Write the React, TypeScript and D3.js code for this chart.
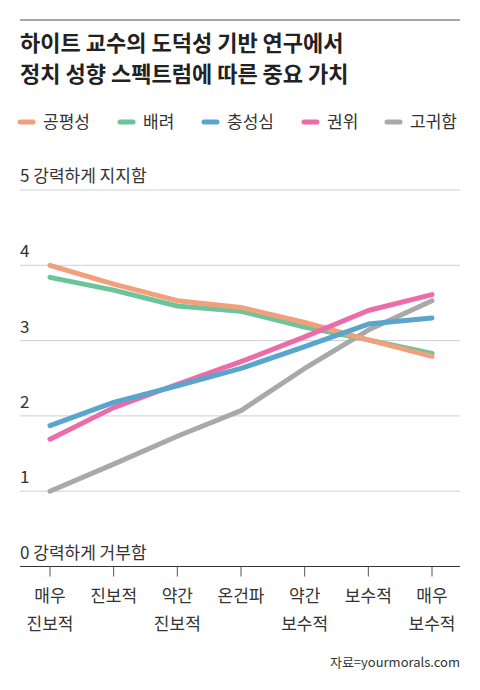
import React, { useRef, useEffect } from "react";
import * as d3 from "d3";

const categories = ["매우\n진보적", "진보적", "약간\n진보적", "온건파", "약간\n보수적", "보수적", "매우\n보수적"];
const seriesNames = ["공평성", "배려", "충성심", "권위", "고귀함"];
const seriesColors = ["#F2A07B", "#6CC49A", "#5AA5CC", "#EC6BA9", "#A9A9A9"];
const fairness = [4.0, 3.75, 3.53, 3.44, 3.24, 3.01, 2.79];
const care = [3.84, 3.67, 3.46, 3.39, 3.18, 3.01, 2.83];
const loyalty = [1.87, 2.18, 2.4, 2.63, 2.92, 3.22, 3.3];
const authority = [1.69, 2.11, 2.42, 2.72, 3.05, 3.4, 3.61];
const sanctity = [1.0, 1.36, 1.73, 2.07, 2.63, 3.14, 3.53];
const yTicks = [0, 1, 2, 3, 4, 5];
const yTickLabels = ["0 강력하게 거부함", "1", "2", "3", "4", "5 강력하게 지지함"];

const FONT = "'Noto Sans CJK KR', 'Noto Sans', sans-serif";
const W = 480;
const H = 690;

const App: React.FC = () => {
  const svgRef = useRef<SVGSVGElement | null>(null);

  const drawChart = () => {
    if (!svgRef.current) return;
    const svg = d3.select(svgRef.current);
    svg.selectAll("*").remove();
    svg.attr("width", W).attr("height", H).style("font-family", FONT);

    const left = 20;
    const right = 460;

    // 上の線とタイトル
    svg.append("line")
      .attr("x1", left).attr("x2", right).attr("y1", 20).attr("y2", 20)
      .attr("stroke", "#8a8a8a").attr("stroke-width", 1.5);

    const title = svg.append("text")
      .attr("x", left).attr("fill", "#222")
      .style("font-size", "22px").style("font-weight", 700);
    title.append("tspan").attr("x", left).attr("y", 51).text("하이트 교수의 도덕성 기반 연구에서");
    title.append("tspan").attr("x", left).attr("y", 82).text("정치 성향 스펙트럼에 따른 중요 가치");

    // legend
    const legendX = [18, 118, 202, 302, 385];
    const legend = svg.append("g");
    seriesNames.forEach((name, i) => {
      legend.append("line")
        .attr("x1", legendX[i] + 2).attr("x2", legendX[i] + 15)
        .attr("y1", 122).attr("y2", 122)
        .attr("stroke", seriesColors[i]).attr("stroke-width", 5)
        .attr("stroke-linecap", "round");
      legend.append("text")
        .attr("x", legendX[i] + 25).attr("y", 128)
        .attr("fill", "#333").style("font-size", "17px")
        .text(name);
    });

    const x = d3.scalePoint<string>()
      .domain(categories)
      .range([50, 432]);
    const y = d3.scaleLinear().domain([0, 5]).range([566.5, 190]);

    // grid
    const grid = svg.append("g");
    yTicks.forEach((t, i) => {
      grid.append("line")
        .attr("x1", left).attr("x2", right)
        .attr("y1", y(t)).attr("y2", y(t))
        .attr("stroke", t === 0 ? "#333" : "#cfcfcf")
        .attr("stroke-width", t === 0 ? 1.2 : 1);
      grid.append("text")
        .attr("x", left).attr("y", y(t) - 8)
        .attr("fill", "#333").style("font-size", "17px")
        .text(yTickLabels[i]);
    });

    // x axis ticks + labels
    const xa = svg.append("g");
    categories.forEach((c) => {
      const cx = x(c) as number;
      xa.append("line")
        .attr("x1", cx).attr("x2", cx).attr("y1", y(0)).attr("y2", y(0) + 10)
        .attr("stroke", "#555").attr("stroke-width", 1);
      const lines = c.split("\n");
      lines.forEach((ln, j) => {
        xa.append("text")
          .attr("x", cx).attr("y", 602 + j * 28)
          .attr("text-anchor", "middle")
          .attr("fill", "#333").style("font-size", "17px")
          .text(ln);
      });
    });

    // lines
    const allSeries = [fairness, care, loyalty, authority, sanctity];
    const drawOrder = [4, 1, 0, 3, 2];
    const line = d3.line<number>()
      .x((_d, i) => x(categories[i]) as number)
      .y((d) => y(d));
    drawOrder.forEach((si) => {
      svg.append("path")
        .attr("d", line(allSeries[si]) as string)
        .attr("fill", "none")
        .attr("stroke", seriesColors[si])
        .attr("stroke-width", 5)
        .attr("stroke-linecap", "round")
        .attr("stroke-linejoin", "round");
    });

    svg.append("text")
      .attr("x", right).attr("y", 667)
      .attr("text-anchor", "end")
      .attr("fill", "#333").style("font-size", "13px")
      .text("자료=yourmorals.com");
  };

  useEffect(() => {
    drawChart();
  }, []);

  return <svg ref={svgRef} style={{ position: "absolute", left: 0, top: 0 }}></svg>;
};

export default App;
